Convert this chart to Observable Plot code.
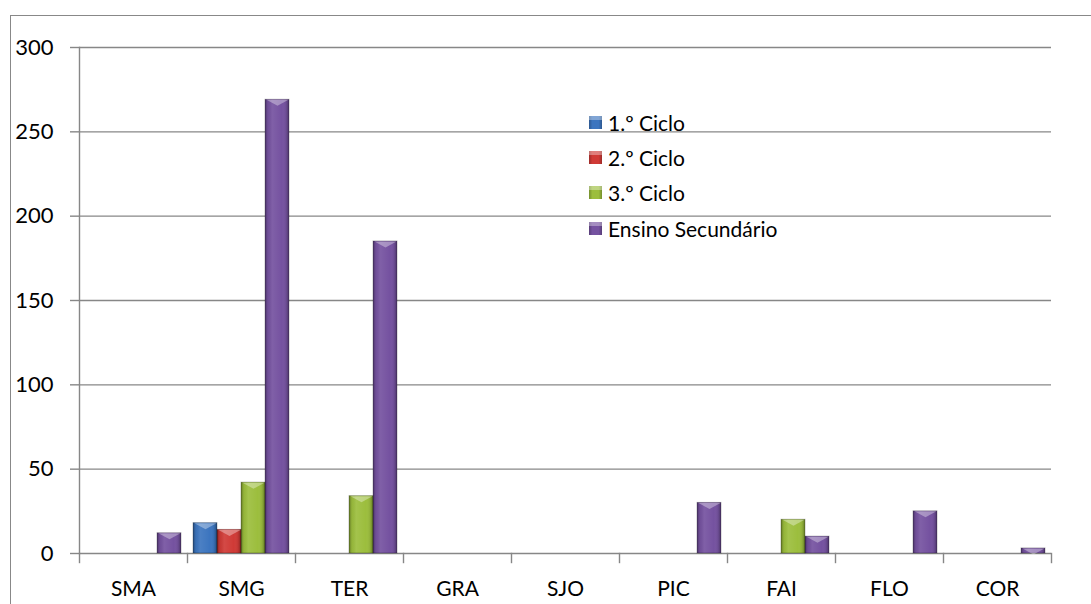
<!DOCTYPE html>
<html><head><meta charset="utf-8">
<script src="https://cdn.jsdelivr.net/npm/d3@7"></script>
<script src="https://cdn.jsdelivr.net/npm/@observablehq/plot@0.6"></script>
<style>
body{margin:0;background:#fff;font-family:Lato,"Open Sans",sans-serif;}
#wrap{position:relative;width:1091px;height:604px;overflow:hidden;background:#fff;}
#border{position:absolute;left:10px;top:15px;width:1200px;height:700px;border-top:1.5px solid #888;border-left:1.5px solid #888;box-sizing:border-box;}
#chart{position:absolute;left:0;top:0;}
#legend{position:absolute;left:589px;top:105px;font-size:21px;color:#000;}
.item{height:35.2px;display:flex;align-items:center;}
.sw{width:13px;height:13px;margin-right:6px;box-sizing:border-box;}
</style></head>
<body>
<div id="wrap"><div id="border"></div><div id="chart"></div><div id="legend"></div></div>
<script>
const categories = ["SMA","SMG","TER","GRA","SJO","PIC","FAI","FLO","COR"];
const seriesNames = ["1.º Ciclo","2.º Ciclo","3.º Ciclo","Ensino Secundário"];
const ciclo1     = [0, 18,   0, 0, 0,  0,  0,  0, 0];
const ciclo2     = [0, 14,   0, 0, 0,  0,  0,  0, 0];
const ciclo3     = [0, 42,  34, 0, 0,  0, 20,  0, 0];
const secundario = [12, 269, 185, 0, 0, 30, 10, 25, 3];
const yTicks = [0, 50, 100, 150, 200, 250, 300];
const colors = ["#3c75bf", "#d03a36", "#9cbe3d", "#7552a0"];

const seriesValues = [ciclo1, ciclo2, ciclo3, secundario];
const data = [];
categories.forEach((c, i) => seriesNames.forEach((s, j) => {
  data.push({cat: c, series: s, value: seriesValues[j][i]});
}));
const nonZero = d => d.value > 0;

const W = 1091, H = 604, mL = 79, mR = 40, mT = 47, mB = 51;
const stepPx = (W - mL - mR) / categories.length;
const barW = stepPx / 4.5;
const bevel = {draw(ctx) { ctx.moveTo(-barW/2 + 1, 0); ctx.lineTo(barW/2 - 1, 0); ctx.lineTo(0, 6); ctx.closePath(); }};
const grey = "#878787";

const plot = Plot.plot({
  width: W, height: H,
  marginLeft: mL, marginRight: mR, marginTop: mT, marginBottom: mB,
  style: {fontFamily: "Lato, 'Open Sans', sans-serif", fontSize: "21px", color: "#000", background: "transparent"},
  fx: {domain: categories, padding: 0, label: null},
  x: {domain: seriesNames, paddingInner: 0, paddingOuter: 0.25, axis: null},
  y: {domain: [0, 300], label: null},
  color: {domain: seriesNames, range: colors},
  marks: [
    Plot.gridY(yTicks, {stroke: grey, strokeOpacity: 1, strokeWidth: 1.4}),
    Plot.axisY(yTicks, {tickSize: 9, tickPadding: 17, stroke: grey, strokeWidth: 1.4, fontSize: 22, label: null}),
    Plot.frame({anchor: "left", facetAnchor: "left", stroke: grey, strokeWidth: 1.4}),
    Plot.frame({anchor: "left", insetTop: H - mT - mB, insetBottom: -9, stroke: grey, strokeWidth: 1.4}),
    Plot.frame({anchor: "right", facetAnchor: "right", insetTop: H - mT - mB, insetBottom: -9, stroke: grey, strokeWidth: 1.4}),
    Plot.axisFx({anchor: "bottom", tickSize: 0, tickPadding: 28, fontSize: 21, label: null}),
    Plot.barY(data, {fx: "cat", x: "series", y: "value", fill: "series"}),
    Plot.barY(data, {fx: "cat", x: "series", y: "value", filter: nonZero, fill: "url(#shade)", stroke: "#000", strokeOpacity: 0.25, strokeWidth: 1}),
    Plot.dot(data, {fx: "cat", x: "series", y: "value", filter: nonZero, symbol: bevel, r: 3, fill: "white", fillOpacity: 0.35, stroke: "none"})
  ]
});
plot.insertAdjacentHTML("afterbegin",
  `<defs><linearGradient id="shade" x1="0" x2="1" y1="0" y2="0">
    <stop offset="0" stop-color="#000" stop-opacity="0.35"/>
    <stop offset="0.12" stop-color="#000" stop-opacity="0.05"/>
    <stop offset="0.3" stop-color="#fff" stop-opacity="0.08"/>
    <stop offset="0.7" stop-color="#fff" stop-opacity="0.0"/>
    <stop offset="0.88" stop-color="#000" stop-opacity="0.08"/>
    <stop offset="1" stop-color="#000" stop-opacity="0.35"/>
  </linearGradient></defs>`);
document.getElementById("chart").appendChild(plot);

const legend = document.getElementById("legend");
seriesNames.forEach((s, i) => {
  const it = document.createElement("div"); it.className = "item";
  const sw = document.createElement("div"); sw.className = "sw";
  sw.style.background = `linear-gradient(to bottom, rgba(255,255,255,0.35) 0 30%, rgba(0,0,0,0) 30%), linear-gradient(to right, rgba(0,0,0,0.25), rgba(0,0,0,0) 25%, rgba(0,0,0,0) 75%, rgba(0,0,0,0.25)), ${colors[i]}`;
  const t = document.createElement("span"); t.textContent = s;
  it.appendChild(sw); it.appendChild(t); legend.appendChild(it);
});
</script>
</body></html>
